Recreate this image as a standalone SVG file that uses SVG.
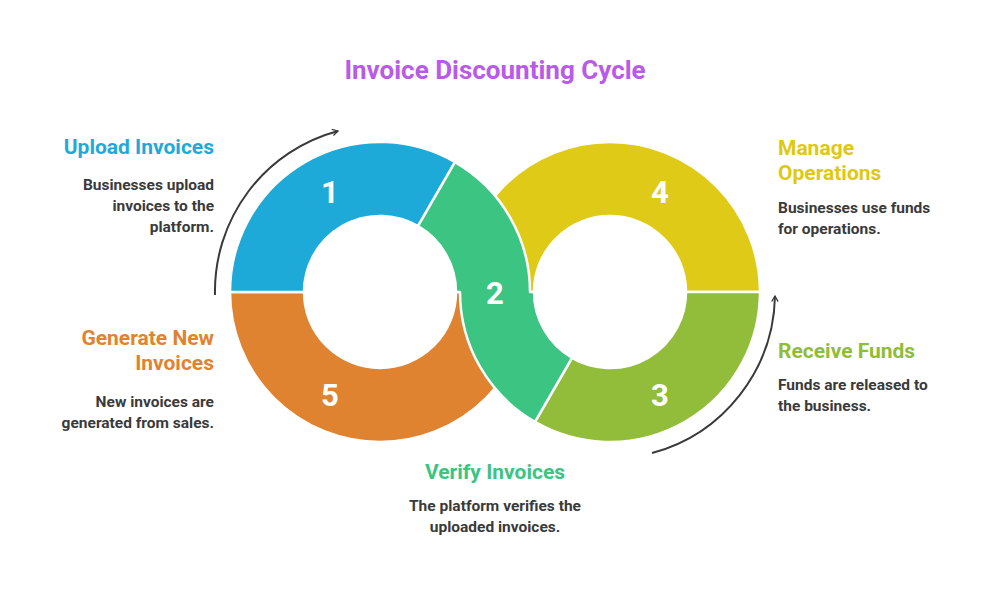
<svg xmlns="http://www.w3.org/2000/svg" width="991" height="598" viewBox="0 0 991 598">
<style>
text{font-family:Roboto,"Liberation Sans",sans-serif;font-weight:bold}
.seg{stroke:#fff;stroke-width:2.5;stroke-linejoin:round}
.num{fill:#fff;font-size:31px;text-anchor:middle}
.h{font-size:21px}
.b{font-size:15.5px;fill:#3a3a3a}
.r{text-anchor:end}
.c{text-anchor:middle}
.arr{fill:none;stroke:#3a3a3a;stroke-width:2}
</style>
<defs><marker id="ah" viewBox="0 0 10 10" refX="8" refY="5" markerWidth="8" markerHeight="8" orient="auto" markerUnits="userSpaceOnUse"><path d="M1,1 L8,5 L1,9" fill="none" stroke="#3a3a3a" stroke-width="1.6"/></marker></defs>
<rect width="991" height="598" fill="#fff"/>
<text x="495" y="79" class="c" font-size="26" fill="#b95ae8">Invoice Discounting Cycle</text>
<g id="n5"><path class="seg" fill="#e08330" d="M230,292 A150,150 0 0 0 530,292 L456,292 A76,76 0 0 1 304,292 Z"/><text class="num" x="330" y="406">5</text></g>
<g id="n4"><path class="seg" fill="#dfcb17" d="M460,292 A150,150 0 0 1 760,292 L686,292 A76,76 0 0 0 534,292 Z"/><text class="num" x="660" y="203">4</text></g>
<g id="n1"><path class="seg" fill="#1eaad8" d="M230,292 A150,150 0 0 1 455,162.1 L418,226.2 A76,76 0 0 0 304,292 Z"/><text class="num" x="330" y="203">1</text></g>
<g id="n3"><path class="seg" fill="#92bd3a" d="M535,421.9 A150,150 0 0 0 760,292 L686,292 A76,76 0 0 1 572,357.8 Z"/><text class="num" x="660" y="406">3</text></g>
<g id="n2"><path class="seg" fill="#3cc482" d="M455,162.1 A150,150 0 0 1 530,292 L534,292 A76,76 0 0 0 572,357.8 L535,421.9 A150,150 0 0 1 460,292 L456,292 A76,76 0 0 0 418,226.2 Z"/><text class="num" x="495" y="304">2</text></g>
<g id="connectors">
<path class="arr" marker-end="url(#ah)" d="M215,295 A166,166 0 0 1 338,131"/>
<path class="arr" marker-end="url(#ah)" d="M652,453 A166,166 0 0 0 775,296"/>
</g>
<g id="t1"><text class="h r" x="214" y="154" fill="#1eaad8">Upload Invoices</text>
<text class="b r" x="214" y="190">Businesses upload</text><text class="b r" x="214" y="211">invoices to the</text><text class="b r" x="214" y="232">platform.</text></g>
<g id="t5"><text class="h r" x="214" y="345" fill="#e08330">Generate New</text><text class="h r" x="214" y="370" fill="#e08330">Invoices</text>
<text class="b r" x="214" y="407">New invoices are</text><text class="b r" x="214" y="428">generated from sales.</text></g>
<g id="t4"><text class="h" x="778" y="155" fill="#dfc812">Manage</text><text class="h" x="778" y="180" fill="#dfc812">Operations</text>
<text class="b" x="778" y="213">Businesses use funds</text><text class="b" x="778" y="234">for operations.</text></g>
<g id="t3"><text class="h" x="778" y="358" fill="#8fbc39">Receive Funds</text>
<text class="b" x="778" y="390">Funds are released to</text><text class="b" x="778" y="411">the business.</text></g>
<g id="t2"><text class="h c" x="495" y="479" fill="#3cc482">Verify Invoices</text>
<text class="b c" x="495" y="511">The platform verifies the</text><text class="b c" x="495" y="532">uploaded invoices.</text></g>
</svg>
